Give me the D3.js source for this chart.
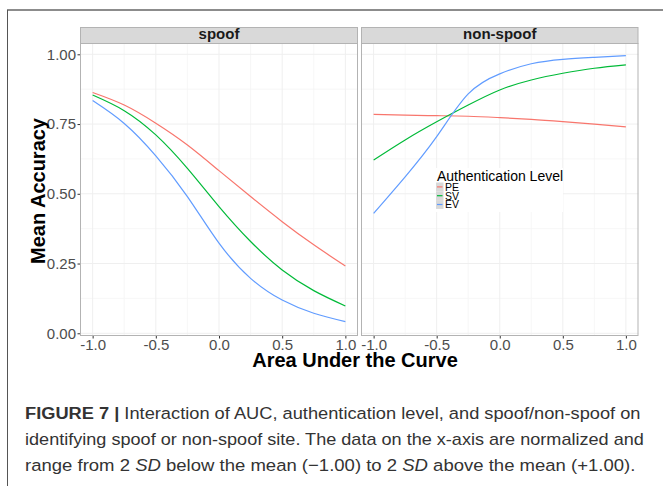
<!DOCTYPE html>
<html>
<head>
<meta charset="utf-8">
<script src="https://cdn.jsdelivr.net/npm/d3@7"></script>
<style>
  html, body { margin: 0; padding: 0; background: #fff; }
  svg { display: block; }
</style>
</head>
<body>
<svg id="chart" width="663" height="486"></svg>
<script>
// ---- data ----
const xValues = [-1.0, -0.75, -0.5, -0.25, 0.0, 0.25, 0.5, 0.75, 1.0];
const panels = ["spoof", "non-spoof"];
const levels = ["PE", "SV", "EV"];
const levelColors = ["#F8766D", "#00BA38", "#619CFF"];

const spoofPE = [0.863, 0.818, 0.753, 0.675, 0.583, 0.490, 0.400, 0.317, 0.241];
const spoofSV = [0.854, 0.798, 0.711, 0.591, 0.454, 0.329, 0.227, 0.153, 0.098];
const spoofEV = [0.834, 0.752, 0.636, 0.490, 0.323, 0.197, 0.119, 0.072, 0.042];

const nonspoofPE = [0.785, 0.782, 0.780, 0.778, 0.773, 0.767, 0.759, 0.750, 0.740];
const nonspoofSV = [0.621, 0.693, 0.758, 0.818, 0.872, 0.908, 0.932, 0.950, 0.962];
const nonspoofEV = [0.430, 0.561, 0.705, 0.858, 0.930, 0.966, 0.982, 0.989, 0.995];

const xTicks = [-1.0, -0.5, 0.0, 0.5, 1.0];
const xTickLabels = ["-1.0", "-0.5", "0.0", "0.5", "1.0"];
const yTicks = [0, 0.25, 0.5, 0.75, 1.0];
const yTickLabels = ["0.00", "0.25", "0.50", "0.75", "1.00"];
const xMinor = [-0.75, -0.25, 0.25, 0.75];
const yMinor = [0.125, 0.375, 0.625, 0.875];

const xTitle = "Area Under the Curve";
const yTitle = "Mean Accuracy";
const legendTitle = "Authentication Level";

const seriesByPanel = {
  "spoof": [spoofPE, spoofSV, spoofEV],
  "non-spoof": [nonspoofPE, nonspoofSV, nonspoofEV]
};

// ---- drawing ----
const svg = d3.select("#chart");
const FONT = "'Liberation Sans', Arial, Helvetica, sans-serif";

// outer frame
svg.append("line").attr("x1", 7).attr("x2", 663).attr("y1", 10).attr("y2", 10)
  .attr("stroke", "#666").attr("stroke-width", 1.6);
svg.append("line").attr("x1", 7.5).attr("x2", 7.5).attr("y1", 10).attr("y2", 486)
  .attr("stroke", "#555").attr("stroke-width", 1);

const panelTop = 43, panelBottom = 336, stripTop = 27;
const panelRanges = [[80, 358], [361, 638.5]];

const y = d3.scaleLinear().domain([-0.0097, 1.0405]).range([panelBottom, panelTop]);

panels.forEach((p, i) => {
  const [x0, x1] = panelRanges[i];
  const x = d3.scaleLinear().domain([-1.1, 1.1]).range([x0, x1]);
  const g = svg.append("g");

  g.append("rect").attr("x", x0).attr("y", panelTop).attr("width", x1 - x0)
    .attr("height", panelBottom - panelTop).attr("fill", "#fff");

  // minor grid
  g.selectAll(".xminor").data(xMinor).join("line")
    .attr("x1", d => x(d)).attr("x2", d => x(d))
    .attr("y1", panelTop).attr("y2", panelBottom)
    .attr("stroke", "#f5f5f5").attr("stroke-width", 0.8);
  g.selectAll(".yminor").data(yMinor).join("line")
    .attr("x1", x0).attr("x2", x1)
    .attr("y1", d => y(d)).attr("y2", d => y(d))
    .attr("stroke", "#f5f5f5").attr("stroke-width", 0.8);
  // major grid
  g.selectAll(".xmajor").data(xTicks).join("line")
    .attr("x1", d => x(d)).attr("x2", d => x(d))
    .attr("y1", panelTop).attr("y2", panelBottom)
    .attr("stroke", "#efefef").attr("stroke-width", 1);
  g.selectAll(".ymajor").data(yTicks).join("line")
    .attr("x1", x0).attr("x2", x1)
    .attr("y1", d => y(d)).attr("y2", d => y(d))
    .attr("stroke", "#efefef").attr("stroke-width", 1);

  // lines
  const line = d3.line().x((d, k) => x(xValues[k])).y(d => y(d)).curve(d3.curveNatural);
  seriesByPanel[p].forEach((vals, k) => {
    g.append("path").datum(vals).attr("d", line)
      .attr("fill", "none").attr("stroke", levelColors[k]).attr("stroke-width", 1.2);
  });

  // panel border
  g.append("rect").attr("x", x0 + 0.5).attr("y", panelTop + 0.5).attr("width", x1 - x0 - 1)
    .attr("height", panelBottom - panelTop - 1).attr("fill", "none")
    .attr("stroke", "#b3b3b3").attr("stroke-width", 1);

  // strip
  g.append("rect").attr("x", x0 + 0.5).attr("y", stripTop + 0.5).attr("width", x1 - x0 - 1)
    .attr("height", panelTop - stripTop).attr("fill", "#d9d9d9")
    .attr("stroke", "#b3b3b3").attr("stroke-width", 1);
  g.append("text").attr("x", (x0 + x1) / 2).attr("y", 39)
    .attr("text-anchor", "middle").attr("font-family", FONT).attr("font-weight", "bold")
    .attr("font-size", 15).attr("fill", "#1a1a1a").text(p);

  // x axis
  const xAxis = d3.axisBottom(x).tickValues(xTicks).tickFormat((d, k) => xTickLabels[k])
    .tickSizeInner(2.5).tickSizeOuter(0).tickPadding(2);
  const ax = svg.append("g").attr("transform", `translate(0,${panelBottom})`).call(xAxis);
  ax.select(".domain").remove();
  ax.selectAll(".tick line").attr("stroke", "#333");
  ax.selectAll(".tick text").attr("font-family", FONT).attr("font-size", 15)
    .attr("fill", "#4d4d4d").attr("dy", null).attr("y", 14);

  // legend inside non-spoof panel
  if (p === "non-spoof") {
    const lg = svg.append("g");
    lg.append("rect").attr("x", 436).attr("y", 168).attr("width", 127).attr("height", 44).attr("fill", "#fff");
    lg.append("text").attr("x", 437).attr("y", 181).attr("font-family", FONT)
      .attr("font-size", 14).attr("fill", "#000").text(legendTitle);
    levels.forEach((lv, k) => {
      const ky = 182.5 + k * 8.8;
      lg.append("rect").attr("x", 436).attr("y", ky).attr("width", 7.5).attr("height", 8.8).attr("fill", "#d9d9d9");
      lg.append("line").attr("x1", 437).attr("x2", 442.5).attr("y1", ky + 4.4).attr("y2", ky + 4.4)
        .attr("stroke", levelColors[k]).attr("stroke-width", 1.2);
      lg.append("text").attr("x", 445).attr("y", ky + 8.2).attr("font-family", FONT)
        .attr("font-size", 10.5).attr("fill", "#000").text(lv);
    });
  }
});

// y axis (left panel)
const yAxis = d3.axisLeft(y).tickValues(yTicks).tickFormat((d, k) => yTickLabels[k])
  .tickSizeInner(2.5).tickSizeOuter(0).tickPadding(1.5);
const ay = svg.append("g").attr("transform", `translate(${panelRanges[0][0]},0)`).call(yAxis);
ay.select(".domain").remove();
ay.selectAll(".tick line").attr("stroke", "#333");
ay.selectAll(".tick text").attr("font-family", FONT).attr("font-size", 15).attr("fill", "#4d4d4d");

// axis titles
svg.append("text").attr("x", 355).attr("y", 367).attr("text-anchor", "middle")
  .attr("font-family", FONT).attr("font-weight", "bold").attr("font-size", 20).attr("fill", "#000")
  .text(xTitle);
svg.append("text").attr("transform", "translate(45,191) rotate(-90)").attr("text-anchor", "middle")
  .attr("font-family", FONT).attr("font-weight", "bold").attr("font-size", 20).attr("fill", "#000")
  .text(yTitle);

// caption
const captionLines = [
  { y: 419, width: 616, parts: [["FIGURE 7 | ", "bold", "normal"], ["Interaction of AUC, authentication level, and spoof/non-spoof on", "normal", "normal"]] },
  { y: 445, width: 619, parts: [["identifying spoof or non-spoof site. The data on the x-axis are normalized and", "normal", "normal"]] },
  { y: 471, width: 611, parts: [["range from 2 ", "normal", "normal"], ["SD", "normal", "italic"], [" below the mean (\u22121.00) to 2 ", "normal", "normal"], ["SD", "normal", "italic"], [" above the mean (+1.00).", "normal", "normal"]] }
];
captionLines.forEach(cl => {
  const g = svg.append("g");
  const t = g.append("text").attr("x", 0).attr("y", 0).attr("font-family", FONT)
    .attr("font-size", 17).attr("fill", "#333");
  cl.parts.forEach(pt => {
    t.append("tspan").attr("font-weight", pt[1]).attr("font-style", pt[2]).text(pt[0]);
  });
  const w = t.node().getComputedTextLength();
  const sx = cl.width / w;
  g.attr("transform", `translate(25,${cl.y}) scale(${sx},1)`);
});
</script>
</body>
</html>
